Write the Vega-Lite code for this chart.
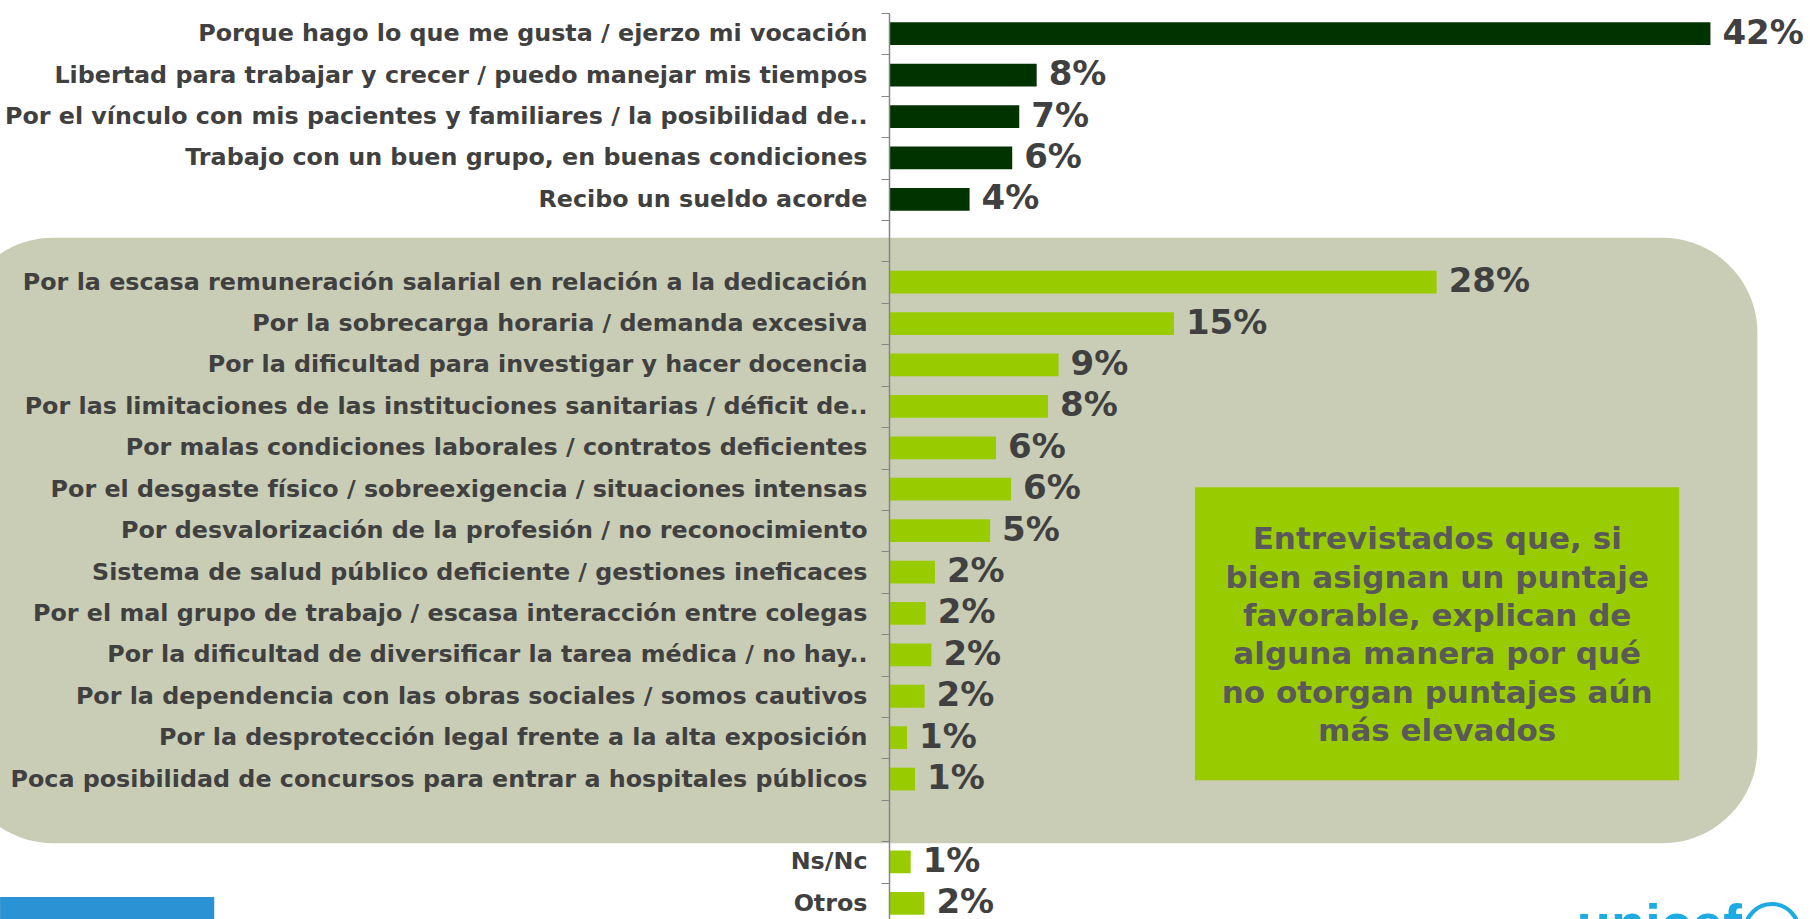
{
  "$schema": "https://vega.github.io/schema/vega-lite/v6.json",
  "autosize": {"type": "none"},
  "padding": {"left": 889, "top": 13, "right": 0, "bottom": 0},
  "width": 921,
  "height": 911,
  "background": "white",
  "config": {"view": {"stroke": null}},
  "datasets": {
    "bars": [
      {"cat": "Porque hago lo que me gusta / ejerzo mi vocación", "value": 42.0, "label": "42%", "grupo": "favorable"},
      {"cat": "Libertad para trabajar y crecer / puedo manejar mis tiempos", "value": 7.55, "label": "8%", "grupo": "favorable"},
      {"cat": "Por el vínculo con mis pacientes y familiares / la posibilidad de..", "value": 6.66, "label": "7%", "grupo": "favorable"},
      {"cat": "Trabajo con un buen grupo, en buenas condiciones", "value": 6.3, "label": "6%", "grupo": "favorable"},
      {"cat": "Recibo un sueldo acorde", "value": 4.12, "label": "4%", "grupo": "favorable"},
      {"cat": "Por la escasa remuneración salarial en relación a la dedicación", "value": 28.0, "label": "28%", "grupo": "reparos"},
      {"cat": "Por la sobrecarga horaria / demanda excesiva", "value": 14.57, "label": "15%", "grupo": "reparos"},
      {"cat": "Por la dificultad para investigar y hacer docencia", "value": 8.67, "label": "9%", "grupo": "reparos"},
      {"cat": "Por las limitaciones de las instituciones sanitarias / déficit de..", "value": 8.13, "label": "8%", "grupo": "reparos"},
      {"cat": "Por malas condiciones laborales / contratos deficientes", "value": 5.47, "label": "6%", "grupo": "reparos"},
      {"cat": "Por el desgaste físico / sobreexigencia / situaciones intensas", "value": 6.24, "label": "6%", "grupo": "reparos"},
      {"cat": "Por desvalorización de la profesión / no reconocimiento", "value": 5.17, "label": "5%", "grupo": "reparos"},
      {"cat": "Sistema de salud público deficiente / gestiones ineficaces", "value": 2.35, "label": "2%", "grupo": "reparos"},
      {"cat": "Por el mal grupo de trabajo / escasa interacción entre colegas", "value": 1.88, "label": "2%", "grupo": "reparos"},
      {"cat": "Por la dificultad de diversificar la tarea médica / no hay..", "value": 2.17, "label": "2%", "grupo": "reparos"},
      {"cat": "Por la dependencia con las obras sociales / somos cautivos", "value": 1.82, "label": "2%", "grupo": "reparos"},
      {"cat": "Por la desprotección legal frente a la alta exposición", "value": 0.92, "label": "1%", "grupo": "reparos"},
      {"cat": "Poca posibilidad de concursos para entrar a hospitales públicos", "value": 1.33, "label": "1%", "grupo": "reparos"},
      {"cat": "Ns/Nc", "value": 1.11, "label": "1%", "grupo": "reparos"},
      {"cat": "Otros", "value": 1.81, "label": "2%", "grupo": "reparos"}
    ],
    "panels": [
      {"name": "fondo", "x0": -47.6, "x1": 44.4, "r0": 5.43, "r1": 20.05},
      {"name": "nota", "x0": 15.64, "x1": 40.4, "r0": 11.45, "r1": 18.53},
      {"name": "logo", "x0": -45.45, "x1": -34.5, "r0": 21.35, "r1": 22.6}
    ],
    "notes": [
      {"x": 28.03, "r": 12.73, "txt": "Entrevistados que, si\nbien asignan un puntaje\nfavorable, explican de\nalguna manera por qué\nno otorgan puntajes aún\nmás elevados"}
    ],
    "brand": [
      {"x": 35.17, "r": 22.46, "txt": "unicef"}
    ],
    "globe": [
      {"x": 45.14, "r": 22.17}
    ]
  },
  "resolve": {"scale": {"y": "independent", "color": "independent"}, "axis": {"y": "independent"}},
  "layer": [
    {
      "data": {"name": "panels"},
      "mark": {"type": "rect", "cornerRadius": 95},
      "transform": [{"filter": "datum.name === 'fondo'"}],
      "encoding": {
        "x": {"field": "x0", "type": "quantitative", "scale": {"domain": [0, 47.09], "nice": false, "zero": false}, "axis": null},
        "x2": {"field": "x1"},
        "y": {"field": "r0", "type": "quantitative", "scale": {"domain": [0, 22], "reverse": true, "nice": false, "zero": false}, "axis": null},
        "y2": {"field": "r1"},
        "color": {"value": "#C9CDB6"}
      }
    },
    {
      "data": {"name": "panels"},
      "mark": {"type": "rect"},
      "transform": [{"filter": "datum.name !== 'fondo'"}],
      "encoding": {
        "x": {"field": "x0", "type": "quantitative", "axis": null},
        "x2": {"field": "x1"},
        "y": {"field": "r0", "type": "quantitative", "scale": {"domain": [0, 22], "reverse": true, "nice": false, "zero": false}, "axis": null},
        "y2": {"field": "r1"},
        "color": {"field": "name", "type": "nominal", "scale": {"domain": ["nota", "logo"], "range": ["#99CC00", "#2B93D4"]}, "legend": null}
      }
    },
    {
      "data": {"name": "notes"},
      "mark": {"type": "text", "align": "center", "baseline": "middle", "lineBreak": "\n", "lineHeight": 38.4, "font": "DejaVu Sans", "fontWeight": "bold", "fontSize": 31, "color": "#595959"},
      "encoding": {
        "x": {"field": "x", "type": "quantitative", "axis": null},
        "y": {"field": "r", "type": "quantitative", "scale": {"domain": [0, 22], "reverse": true, "nice": false, "zero": false}, "axis": null},
        "text": {"field": "txt", "type": "nominal"}
      }
    },
    {
      "data": {"name": "brand"},
      "mark": {"type": "text", "align": "left", "baseline": "alphabetic", "font": "Liberation Sans", "fontWeight": "bold", "fontSize": 56, "color": "#1CABE2"},
      "encoding": {
        "x": {"field": "x", "type": "quantitative", "axis": null},
        "y": {"field": "r", "type": "quantitative", "scale": {"domain": [0, 22], "reverse": true, "nice": false, "zero": false}, "axis": null},
        "text": {"field": "txt", "type": "nominal"}
      }
    },
    {
      "data": {"name": "globe"},
      "mark": {"type": "point", "shape": "circle", "filled": false, "strokeWidth": 4, "size": 2900, "color": "#1CABE2", "opacity": 1},
      "encoding": {
        "x": {"field": "x", "type": "quantitative", "axis": null},
        "y": {"field": "r", "type": "quantitative", "scale": {"domain": [0, 22], "reverse": true, "nice": false, "zero": false}, "axis": null}
      }
    },
    {
      "data": {"name": "bars"},
      "layer": [
        {
          "mark": {"type": "bar", "height": {"band": 0.55}},
          "encoding": {
            "color": {"field": "grupo", "type": "nominal", "scale": {"domain": ["favorable", "reparos"], "range": ["#003300", "#99CC00"]}, "legend": null}
          }
        },
        {
          "mark": {"type": "text", "align": "left", "baseline": "middle", "dx": 12, "font": "DejaVu Sans", "fontWeight": "bold", "fontSize": 34, "color": "#404040"},
          "encoding": {
            "text": {"field": "label", "type": "nominal"}
          }
        }
      ],
      "encoding": {
        "x": {"field": "value", "type": "quantitative", "axis": null},
        "y": {
          "field": "cat", "type": "nominal",
          "scale": {
            "domain": [
              "Porque hago lo que me gusta / ejerzo mi vocación",
              "Libertad para trabajar y crecer / puedo manejar mis tiempos",
              "Por el vínculo con mis pacientes y familiares / la posibilidad de..",
              "Trabajo con un buen grupo, en buenas condiciones",
              "Recibo un sueldo acorde",
              " ",
              "Por la escasa remuneración salarial en relación a la dedicación",
              "Por la sobrecarga horaria / demanda excesiva",
              "Por la dificultad para investigar y hacer docencia",
              "Por las limitaciones de las instituciones sanitarias / déficit de..",
              "Por malas condiciones laborales / contratos deficientes",
              "Por el desgaste físico / sobreexigencia / situaciones intensas",
              "Por desvalorización de la profesión / no reconocimiento",
              "Sistema de salud público deficiente / gestiones ineficaces",
              "Por el mal grupo de trabajo / escasa interacción entre colegas",
              "Por la dificultad de diversificar la tarea médica / no hay..",
              "Por la dependencia con las obras sociales / somos cautivos",
              "Por la desprotección legal frente a la alta exposición",
              "Poca posibilidad de concursos para entrar a hospitales públicos",
              "  ",
              "Ns/Nc",
              "Otros"
            ],
            "paddingInner": 0, "paddingOuter": 0
          },
          "axis": {
            "title": null,
            "zindex": 1,
            "tickBand": "extent",
            "tickSize": 8,
            "tickColor": "#868686",
            "domainColor": "#868686",
            "domainWidth": 1.5,
            "labelFont": "DejaVu Sans",
            "labelFontWeight": "bold",
            "labelFontSize": 23.8,
            "labelColor": "#404040",
            "labelPadding": 14,
            "labelLimit": 1200
          }
        }
      }
    }
  ]
}
